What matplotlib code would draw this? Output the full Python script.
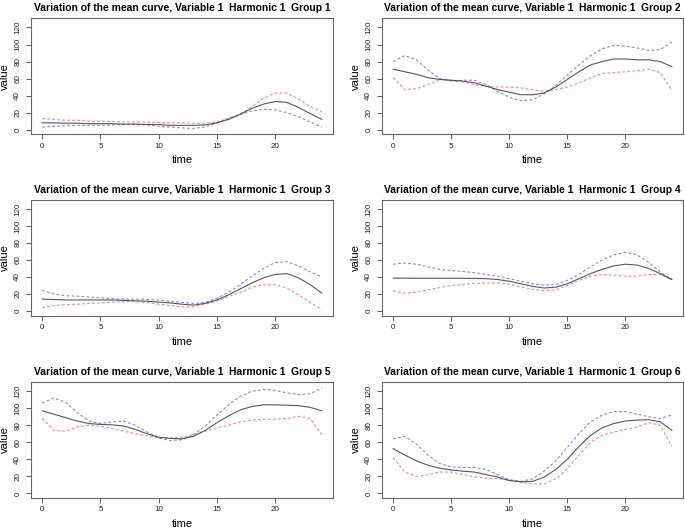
import matplotlib
matplotlib.use("Agg")
import matplotlib.pyplot as plt
import numpy as np

plt.rcParams['font.family'] = ['Liberation Sans', 'DejaVu Sans']

time = list(range(25))

# Group 1
g1_mean = [8, 8, 7.5, 7.5, 7, 7, 7, 6.5, 6.5, 6, 6, 5, 5, 5, 5.5, 8, 12, 18, 25, 30, 33, 32, 26, 19, 12]
g1_plus = [3, 4, 4.5, 5, 5, 5, 5.5, 6, 6, 5.5, 4, 3, 2, 1.5, 3, 8, 13, 18, 22, 24, 23, 20, 15, 9, 3]
g1_minus = [13, 12, 11, 11, 10, 10, 9.5, 9, 9, 9, 8.5, 8, 8, 7.5, 7.5, 9, 13, 18, 27, 37, 43, 43, 36, 27, 21]

# Group 2
g2_mean = [71, 68, 65, 61, 59, 58, 57, 55, 51, 47, 44, 41, 41, 43, 50, 59, 68, 76, 80, 83, 83, 82, 82, 80, 74]
g2_plus = [80, 87, 82, 70, 60, 57, 58, 58, 53, 45, 38, 34, 35, 42, 52, 64, 76, 87, 95, 99, 98, 96, 93, 94, 103]
g2_minus = [61, 47, 48, 53, 59, 58, 56, 53, 51, 50, 50, 49, 47, 45, 47, 50, 55, 61, 66, 67, 68, 69, 71, 67, 46]

# Group 3
g3_mean = [14, 13.5, 13, 13, 13, 13, 13, 12.5, 12, 11.5, 10.5, 9.5, 8, 7, 9, 13, 19, 26, 33, 39, 43, 44, 39, 31, 21]
g3_plus = [24.5, 20, 18, 17.5, 16.5, 15.5, 14.5, 14, 14, 13.5, 13, 11.5, 10, 9, 10, 15, 22, 31, 41, 50, 57, 58, 53, 46, 40]
g3_minus = [4, 6.5, 7.5, 8, 9, 9.5, 10.5, 11, 11, 10, 8, 6.5, 5, 5, 8, 12, 17, 22, 28, 31, 31, 27, 19, 10, 1.5]

# Group 4
g4_mean = [38.7, 38.6, 38.5, 38.5, 38.5, 38.5, 38.5, 38.3, 38, 37, 35, 32, 29, 27, 28, 32, 38, 44, 49, 53, 55, 54, 50, 44, 37]
g4_plus = [55, 56.5, 55, 52, 49, 47.5, 46.5, 45, 43, 41, 38, 35, 32, 30.5, 31, 36, 43, 52, 60, 66, 69, 66, 57, 46, 37]
g4_minus = [23.7, 21, 22, 25, 27.5, 30, 31.5, 32.5, 33, 33, 31.5, 28.5, 25.5, 24, 25, 30, 36, 41, 43, 42, 41, 41, 43, 43, 37]

# Group 5
g5_mean = [97, 93, 89, 85, 82, 81, 80.5, 79, 75, 70, 66, 64.5, 64, 67, 74, 83, 91, 98, 102, 104, 104, 103.5, 103, 101, 97]
g5_plus = [106, 112, 107, 95, 85, 82, 84, 85, 80, 72, 65, 62, 63, 69, 79, 92, 104, 114, 120, 122, 121, 118, 116, 117, 124]
g5_minus = [88, 74, 73, 78, 80, 79, 76, 73, 70, 67.5, 65.5, 65, 66, 69, 73, 77, 80, 84, 86, 87, 87, 88, 90.5, 88, 69]

# Group 6
g6_mean = [52.5, 45, 38, 33, 29.5, 27.5, 26, 25, 22, 19, 15, 13.5, 14, 19, 28, 40, 55, 68, 77, 82, 85, 86, 86.5, 84, 74]
g6_plus = [64, 67, 58, 45, 35, 31, 30.5, 30.5, 28, 22, 16, 14, 17, 26, 38, 54, 70, 84, 92, 96, 96, 93, 90, 88, 92]
g6_minus = [42, 25, 20, 22, 25, 25, 22, 19.5, 18, 17, 16, 13, 11, 11, 17, 29, 45, 60, 68, 72, 75, 78, 83, 80, 55]

groups = [
    (g1_mean, g1_plus, g1_minus),
    (g2_mean, g2_plus, g2_minus),
    (g3_mean, g3_plus, g3_minus),
    (g4_mean, g4_plus, g4_minus),
    (g5_mean, g5_plus, g5_minus),
    (g6_mean, g6_plus, g6_minus),
]
titles = ["Variation of the mean curve, Variable 1  Harmonic 1  Group %d" % (i + 1) for i in range(6)]
xticks = [0, 5, 10, 15, 20]
yticks = [0, 20, 40, 60, 80, 100, 120]

W, H = 685, 530
fig = plt.figure(figsize=(W / 100, H / 100), dpi=100)

lefts = [31, 382]
widths = [302, 301]
tops = [18.3, 199.7, 382]
ph = 116

for i, (mean, plus, minus) in enumerate(groups):
    r, c = divmod(i, 2)
    l = lefts[c]
    t = tops[r]
    ax = fig.add_axes([l / W, 1 - (t + ph) / H, widths[c] / W, ph / H])
    ax.plot(time, plus, color='#4d4dff', lw=0.8, ls=(0, (2.5, 2)), alpha=0.7)
    ax.plot(time, minus, color='#ff4d4d', lw=0.8, ls=(0, (2.5, 2)), alpha=0.7)
    ax.plot(time, mean, color='#3a3a3a', lw=0.8, alpha=0.85)
    ax.set_xlim(-0.96, 24.96)
    ax.set_ylim(-5.5, 130.8)
    ax.set_xticks(xticks)
    ax.set_yticks(yticks)
    ax.set_yticklabels([str(v) for v in yticks], rotation=90, va='center')
    ax.tick_params(direction='out', length=3.5, width=0.6, colors='#444444',
                   labelsize=5.8, labelcolor='#222222')
    ax.tick_params(axis='x', pad=2.5)
    ax.tick_params(axis='y', pad=3.5)
    for s in ax.spines.values():
        s.set_color('#666666')
        s.set_linewidth(0.8)
    ax.set_title(titles[i], fontsize=7.4, fontweight='bold', pad=5)
    ax.set_xlabel('time', fontsize=8, labelpad=4)
    ax.set_ylabel('value', fontsize=8, labelpad=3)

fig.savefig('out.png', dpi=100)
